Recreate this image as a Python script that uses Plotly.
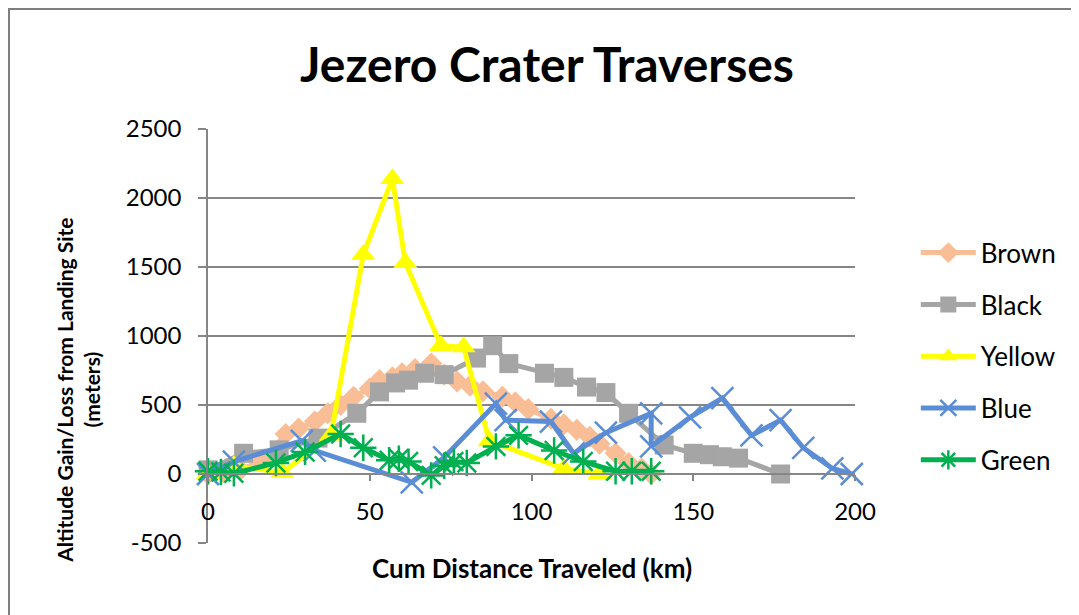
import plotly.graph_objects as go

# traverse profiles: cumulative distance (km) vs altitude change (m)
brown_x = [0, 5, 10, 17, 24, 28, 33, 37, 41, 45, 50, 53, 57, 60, 64, 69, 73, 77, 81, 85,
           91, 95, 99, 106, 110, 114, 118, 121, 126, 130, 134, 137]
brown_y = [0, 10, 30, 100, 290, 330, 380, 440, 500, 560, 620, 680, 700, 730, 760, 800, 720, 670, 640, 600,
           560, 520, 470, 400, 360, 320, 270, 220, 150, 80, 40, 0]

black_x = [0, 11, 22, 34, 46, 53, 58, 62, 67, 73, 83, 88, 93, 104, 110, 117, 123, 130,
           141, 150, 155, 159, 164, 177]
black_y = [30, 150, 175, 260, 440, 595, 660, 680, 730, 720, 840, 930, 800, 730, 700, 630, 590, 440,
           210, 150, 140, 125, 115, 0]

yellow_x = [0, 8, 23, 38, 48, 57, 61, 72, 79, 87, 110, 121]
yellow_y = [0, 60, 10, 280, 1590, 2140, 1530, 930, 920, 240, 40, 0]

blue_x = [0, 8, 29, 33, 63, 73, 89, 92, 106, 113, 123, 137, 137, 149, 159, 168, 177, 184, 193, 199]
blue_y = [0, 90, 240, 170, -60, 120, 510, 390, 380, 150, 300, 440, 200, 410, 550, 280, 390, 190, 40, 0]

green_x = [0, 4, 8, 21, 30, 41, 48, 56, 59, 62, 69, 73, 76, 80, 89, 96, 107, 116, 126, 131, 137]
green_y = [20, 15, 5, 80, 160, 290, 190, 100, 110, 90, -10, 60, 90, 80, 200, 280, 170, 90, 20, 20, 20]

x_ticks = [0, 50, 100, 150, 200]
y_ticks = [-500, 0, 500, 1000, 1500, 2000, 2500]
y_labels = ["-500", "0", "500", "1000", "1500", "2000", "2500"]

FONT = "Lato"
GRID = "#868686"

series = [
    ("Brown", brown_x, brown_y, "#F9BE95", dict(symbol="diamond", size=17)),
    ("Black", black_x, black_y, "#A5A5A5", dict(symbol="square", size=19)),
    ("Yellow", yellow_x, yellow_y, "#FFFF00", dict(symbol="triangle-up", size=21)),
    ("Blue", blue_x, blue_y, "#5B8DD6", dict(symbol="x-thin-open", size=22,
                                             line=dict(width=2.5, color="#5B8DD6"))),
    ("Green", green_x, green_y, "#00B050", dict(symbol="asterisk-open", size=22,
                                                line=dict(width=2.5, color="#00B050"))),
]

fig = go.Figure()
for i, (name, xs, ys, color, marker) in enumerate(series):
    fig.add_trace(go.Scatter(
        x=xs, y=ys, name=name, mode="lines+markers",
        line=dict(color=color, width=5),
        marker=dict(color=color, **marker),
        cliponaxis=False,
        legendgroup=f"g{i}",
    ))

# page has an 8px body margin, so everything is placed 8px up/left of the target
fig.update_layout(
    width=1079, height=615,
    margin=dict(l=200, r=232, t=121, b=80),
    paper_bgcolor="white", plot_bgcolor="white",
    font=dict(family=FONT, color="#000000"),
    title=dict(text="<b>Jezero Crater Traverses</b>", x=0.4995, xanchor="center",
               y=0.907, yanchor="middle", font=dict(size=48, family=FONT)),
    legend=dict(x=1.094, y=0.758, xanchor="left", yanchor="top",
                font=dict(size=26, family=FONT), tracegroupgap=15,
                bgcolor="rgba(0,0,0,0)", itemwidth=55),
    showlegend=True,
)

fig.update_xaxes(
    range=[0, 200], tickvals=x_ticks, showgrid=False, zeroline=False,
    anchor="free", position=500 / 3000,
    showline=True, linecolor=GRID, linewidth=1.5,
    ticks="outside", ticklen=6, tickcolor=GRID, tickwidth=1.5,
    ticklabelstandoff=10, tickfont=dict(size=24, family=FONT),
)
fig.update_yaxes(
    range=[-500, 2500], tickvals=y_ticks, ticktext=y_labels,
    showgrid=True, gridcolor=GRID, gridwidth=1.5,
    zeroline=False, showline=True, linecolor=GRID, linewidth=1.5,
    ticks="outside", ticklen=8, tickcolor=GRID, tickwidth=1.5,
    ticklabelstandoff=12, tickfont=dict(size=24, family=FONT),
)

# axis titles
fig.add_annotation(text="<b>Cum Distance Traveled (km)</b>", xref="paper", yref="paper",
                   x=0.5, y=-0.061, xanchor="center", yanchor="middle", showarrow=False,
                   font=dict(size=26, family=FONT))
fig.add_annotation(text="<b>Altitude Gain/Loss from Landing Site<br>(meters)</b>",
                   xref="paper", yref="paper", x=-0.201, y=0.37, textangle=-90,
                   xanchor="center", yanchor="middle", showarrow=False,
                   font=dict(size=21, family=FONT))

# chart frame
fig.add_shape(type="rect", xref="paper", yref="paper",
              x0=(1 - 200) / 647, x1=(1068 - 200) / 647,
              y0=(535 - 612) / 414, y1=(535 - 1) / 414,
              line=dict(color="#7F7F7F", width=2), fillcolor="rgba(0,0,0,0)", layer="below")

fig.write_html("out.html")
